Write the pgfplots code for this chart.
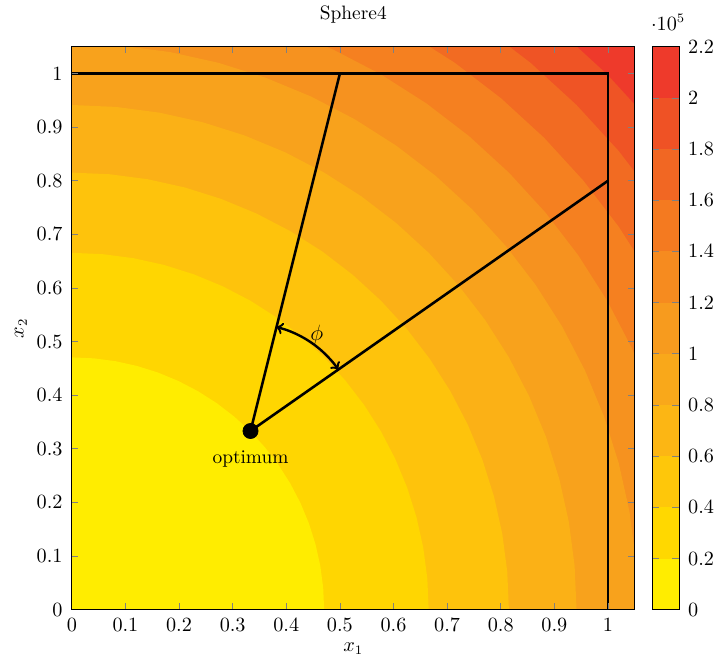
\documentclass[border=0pt]{standalone}
\usepackage{pgfplots}
\pgfplotsset{compat=1.18}
\usepgfplotslibrary{polar}
\definecolor{c0}{RGB}{255,237,0}
\definecolor{c1}{RGB}{255,214,1}
\definecolor{c2}{RGB}{254,195,12}
\definecolor{c3}{RGB}{251,177,22}
\definecolor{c4}{RGB}{248,162,28}
\definecolor{c5}{RGB}{246,146,31}
\definecolor{c6}{RGB}{245,128,32}
\definecolor{c7}{RGB}{242,107,34}
\definecolor{c8}{RGB}{239,84,37}
\definecolor{c9}{RGB}{238,58,43}
\definecolor{b0}{RGB}{255,237,0}
\definecolor{b1}{RGB}{255,216,0}
\definecolor{b2}{RGB}{254,199,10}
\definecolor{b3}{RGB}{252,182,20}
\definecolor{b4}{RGB}{249,168,26}
\definecolor{b5}{RGB}{247,155,30}
\definecolor{b6}{RGB}{246,139,31}
\definecolor{b7}{RGB}{244,122,32}
\definecolor{b8}{RGB}{241,103,35}
\definecolor{b9}{RGB}{239,82,37}
\definecolor{b10}{RGB}{238,58,43}
\pgfplotsset{every axis/.append style={font=\fontsize{10.5}{12.6}\selectfont}}
\begin{document}
\begin{tikzpicture}
\path (-38.9pt,-27pt) rectangle (346.6pt,328.8pt);
\begin{axis}[
  at={(0,0)}, anchor=south west,
  width=305pt, height=305pt, scale only axis,
  xmin=0, xmax=1.05, ymin=0, ymax=1.05,
  xtick={0,0.1,0.2,0.3,0.4,0.5,0.6,0.7,0.8,0.9,1},
  ytick={0,0.1,0.2,0.3,0.4,0.5,0.6,0.7,0.8,0.9,1},
  title={Sphere4}, xlabel={$x_1$}, ylabel={$x_2$},
  title style={yshift=3pt},
  axis on top,
  tick style={gray, thin}, major tick length=3.5pt,
  tick align=inside,
  yticklabel style={xshift=-1.5pt},
  xticklabel style={yshift=-1pt},
  xlabel style={yshift=0.5pt},
  ylabel shift=-1.5pt,
]
% corner band
\addplot[fill=c9, draw=none] coordinates {(0,0) (1.05,0) (1.05,1.05) (0,1.05)} -- cycle;
% quarter disks (polar: angle in degrees, radius)
\addplot[fill=c8, draw=none, data cs=polar] coordinates {(0,0) (0,1.4119) (5,1.4119) (10,1.4119) (15,1.4119) (20,1.4119) (25,1.4119) (30,1.4119) (35,1.4119) (40,1.4119) (45,1.4119) (50,1.4119) (55,1.4119) (60,1.4119) (65,1.4119) (70,1.4119) (75,1.4119) (80,1.4119) (85,1.4119) (90,1.4119)} -- cycle;
\addplot[fill=c7, draw=none, data cs=polar] coordinates {(0,0) (0,1.3312) (5,1.3312) (10,1.3312) (15,1.3312) (20,1.3312) (25,1.3312) (30,1.3312) (35,1.3312) (40,1.3312) (45,1.3312) (50,1.3312) (55,1.3312) (60,1.3312) (65,1.3312) (70,1.3312) (75,1.3312) (80,1.3312) (85,1.3312) (90,1.3312)} -- cycle;
\addplot[fill=c6, draw=none, data cs=polar] coordinates {(0,0) (0,1.2452) (5,1.2452) (10,1.2452) (15,1.2452) (20,1.2452) (25,1.2452) (30,1.2452) (35,1.2452) (40,1.2452) (45,1.2452) (50,1.2452) (55,1.2452) (60,1.2452) (65,1.2452) (70,1.2452) (75,1.2452) (80,1.2452) (85,1.2452) (90,1.2452)} -- cycle;
\addplot[fill=c5, draw=none, data cs=polar] coordinates {(0,0) (0,1.1528) (5,1.1528) (10,1.1528) (15,1.1528) (20,1.1528) (25,1.1528) (30,1.1528) (35,1.1528) (40,1.1528) (45,1.1528) (50,1.1528) (55,1.1528) (60,1.1528) (65,1.1528) (70,1.1528) (75,1.1528) (80,1.1528) (85,1.1528) (90,1.1528)} -- cycle;
\addplot[fill=c4, draw=none, data cs=polar] coordinates {(0,0) (0,1.0560) (5,1.0560) (10,1.0560) (15,1.0560) (20,1.0560) (25,1.0560) (30,1.0560) (35,1.0560) (40,1.0560) (45,1.0560) (50,1.0560) (55,1.0560) (60,1.0560) (65,1.0560) (70,1.0560) (75,1.0560) (80,1.0560) (85,1.0560) (90,1.0560)} -- cycle;
\addplot[fill=c3, draw=none, data cs=polar] coordinates {(0,0) (0,0.9413) (5,0.9413) (10,0.9413) (15,0.9413) (20,0.9413) (25,0.9413) (30,0.9413) (35,0.9413) (40,0.9413) (45,0.9413) (50,0.9413) (55,0.9413) (60,0.9413) (65,0.9413) (70,0.9413) (75,0.9413) (80,0.9413) (85,0.9413) (90,0.9413)} -- cycle;
\addplot[fill=c2, draw=none, data cs=polar] coordinates {(0,0) (0,0.8152) (5,0.8152) (10,0.8152) (15,0.8152) (20,0.8152) (25,0.8152) (30,0.8152) (35,0.8152) (40,0.8152) (45,0.8152) (50,0.8152) (55,0.8152) (60,0.8152) (65,0.8152) (70,0.8152) (75,0.8152) (80,0.8152) (85,0.8152) (90,0.8152)} -- cycle;
\addplot[fill=c1, draw=none, data cs=polar] coordinates {(0,0) (0,0.6656) (5,0.6656) (10,0.6656) (15,0.6656) (20,0.6656) (25,0.6656) (30,0.6656) (35,0.6656) (40,0.6656) (45,0.6656) (50,0.6656) (55,0.6656) (60,0.6656) (65,0.6656) (70,0.6656) (75,0.6656) (80,0.6656) (85,0.6656) (90,0.6656)} -- cycle;
\addplot[fill=c0, draw=none, data cs=polar] coordinates {(0,0) (0,0.4706) (5,0.4706) (10,0.4706) (15,0.4706) (20,0.4706) (25,0.4706) (30,0.4706) (35,0.4706) (40,0.4706) (45,0.4706) (50,0.4706) (55,0.4706) (60,0.4706) (65,0.4706) (70,0.4706) (75,0.4706) (80,0.4706) (85,0.4706) (90,0.4706)} -- cycle;
% box and rays
\addplot[black, line width=1.4pt, mark=none] coordinates {(0,1) (1,1) (1,0)};
\addplot[black, line width=1.4pt, mark=none] coordinates {(0.5,1) (0.3333,0.3333) (1,0.8)};
% angle arc
\addplot[black, line width=1.3pt, mark=none, smooth, <->] coordinates {(0.4972,0.4480) (0.4865,0.4619) (0.4747,0.4747) (0.4619,0.4865) (0.4480,0.4972) (0.4333,0.5065) (0.4178,0.5146) (0.4017,0.5213) (0.3817,0.5274)};
% optimum
\addplot[only marks, mark=*, mark size=4.1pt, black] coordinates {(0.3333,0.3333)};
\node[below, yshift=-7pt] at (axis cs:0.3333,0.3333) {optimum};
\node at (axis cs:0.457,0.512) {\large$\phi$};
\end{axis}
% colour bar
\begin{axis}[
  at={(314.3pt,0)}, anchor=south west,
  width=14.6pt, height=305pt, scale only axis,
  xmin=0, xmax=1, ymin=0, ymax=2.2,
  clip=false,
  xtick=\empty,
  ytick={0,0.2,0.4,0.6,0.8,1,1.2,1.4,1.6,1.8,2,2.2},
  yticklabel pos=right, ytick pos=both,
  tick align=inside, major tick length=4pt, tick style={gray, thin},
  yticklabel style={inner xsep=0pt, xshift=4.8pt},
  axis on top,
]
\addplot[fill=b0, draw=none] coordinates {(0,0) (1,0) (1,0.2) (0,0.2)} -- cycle;
\addplot[fill=b1, draw=none] coordinates {(0,0.2) (1,0.2) (1,0.4) (0,0.4)} -- cycle;
\addplot[fill=b2, draw=none] coordinates {(0,0.4) (1,0.4) (1,0.6) (0,0.6)} -- cycle;
\addplot[fill=b3, draw=none] coordinates {(0,0.6) (1,0.6) (1,0.8) (0,0.8)} -- cycle;
\addplot[fill=b4, draw=none] coordinates {(0,0.8) (1,0.8) (1,1.0) (0,1.0)} -- cycle;
\addplot[fill=b5, draw=none] coordinates {(0,1.0) (1,1.0) (1,1.2) (0,1.2)} -- cycle;
\addplot[fill=b6, draw=none] coordinates {(0,1.2) (1,1.2) (1,1.4) (0,1.4)} -- cycle;
\addplot[fill=b7, draw=none] coordinates {(0,1.4) (1,1.4) (1,1.6) (0,1.6)} -- cycle;
\addplot[fill=b8, draw=none] coordinates {(0,1.6) (1,1.6) (1,1.8) (0,1.8)} -- cycle;
\addplot[fill=b9, draw=none] coordinates {(0,1.8) (1,1.8) (1,2.0) (0,2.0)} -- cycle;
\addplot[fill=b10, draw=none] coordinates {(0,2.0) (1,2.0) (1,2.2) (0,2.2)} -- cycle;
\node[anchor=base] at (rel axis cs:0.6,1) [yshift=9pt] {$\cdot 10^{5}$};
\end{axis}
\end{tikzpicture}
\end{document}
